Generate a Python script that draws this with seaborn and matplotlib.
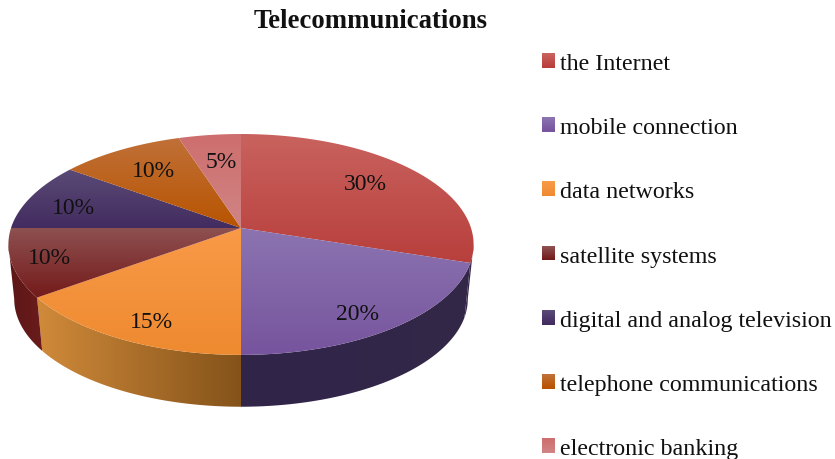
import numpy as np
import seaborn as sns
import matplotlib
matplotlib.use("Agg")
import matplotlib.pyplot as plt
from matplotlib.legend_handler import HandlerPatch
from matplotlib.patches import Patch, Polygon, Rectangle

title = "Telecommunications"
categories = [
    "the Internet",
    "mobile connection",
    "data networks",
    "satellite systems",
    "digital and analog television",
    "telephone communications",
    "electronic banking",
]
shares = [30, 20, 15, 10, 10, 10, 5]

# gradient ends per slice: top face (upper, lower), side face (left, right)
top_colors = [
    ("#C9625E", "#B83F3C"),
    ("#8B74B0", "#77549E"),
    ("#F99A48", "#EE8A30"),
    ("#8E5050", "#741A1A"),
    ("#5A4A76", "#432C60"),
    ("#C07038", "#B85400"),
    ("#CE6E6E", "#D08484"),
]
side_colors = [
    ("#3A2A50", "#3A2A50"),
    ("#30244A", "#342848"),
    ("#D08A3A", "#85531A"),
    ("#5C1616", "#6A1C1C"),
    ("#2E2340", "#2E2340"),
    ("#5A2A00", "#5A2A00"),
    ("#6A3030", "#6A3030"),
]
# label placement: share of the radius, then a small pixel nudge
label_radius = [0.70, 0.78, 0.79, 0.85, 0.76, 0.62, 0.70]
label_nudge = [(2, -3), (0, 10), (3, 9), (2, 0), (-7, 4), (-10, -7), (3, 1)]

# perspective of the disc, in pixels
CX, CY = 241, 229
RX, RY = 230, 108
PERSP = 0.149
DEPTH_SCALE, DEPTH = 0.975, 55
# the rim is only visible between the two silhouette tangents
FRONT_START = np.arccos(-PERSP) / (2 * np.pi)
FRONT_END = 1 - FRONT_START


def project(frac, radius=1.0, lower=False):
    # frac is clockwise from 12 o'clock, as share of the full circle
    ang = 2 * np.pi * np.asarray(frac)
    u, v = radius * np.sin(ang), radius * np.cos(ang)
    w = 1 + PERSP * v
    x, y = RX * u / w, -RY * v / w
    if lower:
        x, y = x * DEPTH_SCALE, y * DEPTH_SCALE + DEPTH
    return CX + x, CY + y


def gradient_fill(ax, xy, colors, vertical=True, zorder=2):
    poly = Polygon(xy, closed=True, transform=ax.transData, facecolor="none", edgecolor="none")
    ax.add_patch(poly)
    x0, y0 = xy.min(axis=0)
    x1, y1 = xy.max(axis=0)
    grad = np.array(sns.blend_palette(colors, 128))
    img = grad[:, None, :] if vertical else grad[None, :, :]
    im = ax.imshow(img, extent=(x0, x1, y1, y0), aspect="auto", zorder=zorder, interpolation="bilinear")
    im.set_clip_path(poly)


class HandlerGradient(HandlerPatch):
    def create_artists(self, legend, orig_handle, xdescent, ydescent, width, height, fontsize, trans):
        pal = sns.blend_palette(orig_handle.grad, 14)
        strips = []
        for i, c in enumerate(pal):
            y = -ydescent + height * (1 - (i + 1) / len(pal))
            strips.append(Rectangle((-xdescent, y), width, height / len(pal) + 0.3,
                                    facecolor=c, edgecolor="none", transform=trans))
        return strips


sns.set_theme(style="white")
plt.rcParams["font.family"] = ["Liberation Serif", "DejaVu Serif"]

fig = plt.figure(figsize=(8.35, 4.6), dpi=100)
ax = fig.add_axes([0, 0, 1, 1])

edges = np.concatenate([[0], np.cumsum(shares)]) / sum(shares)

for i in range(len(shares)):
    start, end = max(edges[i], FRONT_START), min(edges[i + 1], FRONT_END)
    if end <= start:
        continue
    frac = np.linspace(start, end, 80)
    x_top, y_top = project(frac)
    x_low, y_low = project(frac, lower=True)
    side = np.column_stack([np.r_[x_top, x_low[::-1]], np.r_[y_top, y_low[::-1]]])
    gradient_fill(ax, side, side_colors[i], vertical=False, zorder=2)

for i in range(len(shares)):
    frac = np.linspace(edges[i], edges[i + 1], 80)
    x_top, y_top = project(frac)
    face = np.column_stack([np.r_[CX, x_top], np.r_[CY, y_top]])
    gradient_fill(ax, face, top_colors[i], zorder=3)

    mid = (edges[i] + edges[i + 1]) / 2
    lx, ly = project(mid, radius=label_radius[i])
    ax.text(lx + label_nudge[i][0], ly + label_nudge[i][1], f"{shares[i]}%",
            ha="center", va="center", fontsize=17, color="#111111", zorder=5)

ax.set_xlim(0, 835)
ax.set_ylim(460, 0)
ax.axis("off")

ax.text(371, 21, title, ha="center", va="center", fontsize=19.3, fontweight="bold", color="#111111")

handles = []
for name, cols in zip(categories, top_colors):
    h = Patch(label=name)
    h.grad = (cols[0], cols[1])
    handles.append(h)
ax.legend(
    handles=handles,
    handler_map={Patch: HandlerGradient()},
    loc="upper left",
    bbox_to_anchor=(542 / 835, 1 - 54 / 460),
    bbox_transform=fig.transFigure,
    frameon=False,
    fontsize=17.3,
    labelcolor="#111111",
    handlelength=0.54,
    handleheight=0.54,
    handletextpad=0.21,
    labelspacing=1.80,
    borderpad=0,
    borderaxespad=0,
)

fig.savefig("out.png", dpi=100)
